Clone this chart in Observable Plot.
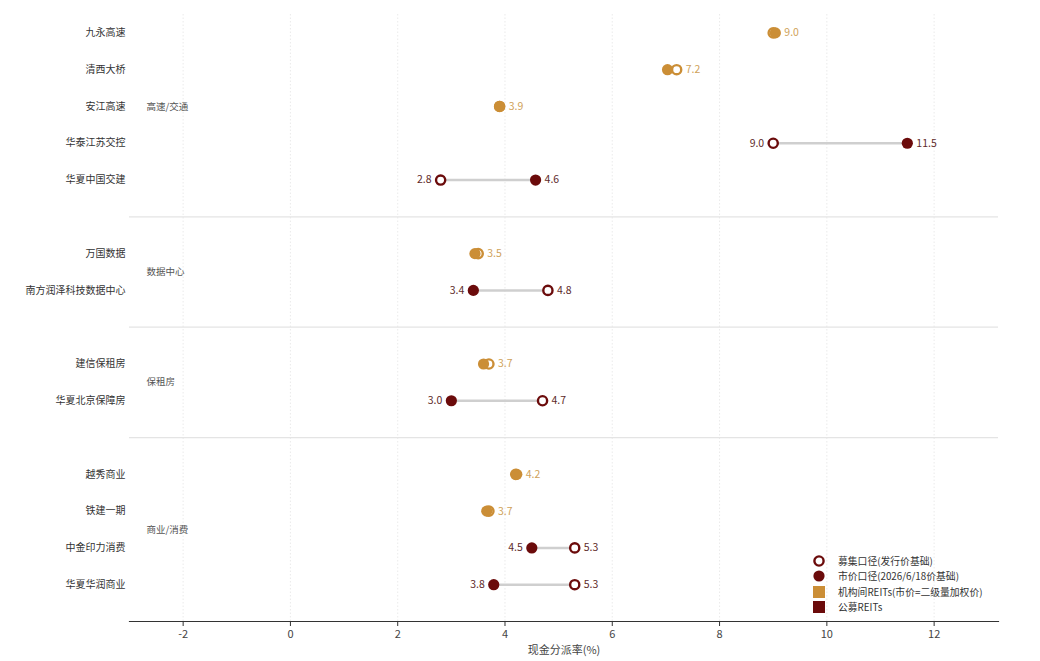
<!DOCTYPE html>
<html>
<head>
<meta charset="utf-8">
<script src="https://cdn.jsdelivr.net/npm/d3@7"></script>
<script src="https://cdn.jsdelivr.net/npm/@observablehq/plot@0.6"></script>
<style>
  html, body { margin: 0; padding: 0; background: #fff; }
  #wrap { position: relative; width: 1040px; height: 661px; font-family: "Noto Sans CJK SC", "Noto Sans", sans-serif; }
  #legend { position: absolute; left: 811px; top: 553px; font-size: 9.8px; color: #333; }
  #legend .item { display: flex; align-items: center; height: 15.5px; }
  #legend svg { width: 16px; height: 14px; margin-right: 11px; }
</style>
</head>
<body>
<div id="wrap">
  <div id="chart"></div>
  <div id="legend"></div>
</div>
<script>
// ---- data ----
const funds = ["九永高速", "清西大桥", "安江高速", "华泰江苏交控", "华夏中国交建",
  "万国数据", "南方润泽科技数据中心",
  "建信保租房", "华夏北京保障房",
  "越秀商业", "铁建一期", "中金印力消费", "华夏华润商业"];
const sectorOf = ["高速/交通", "高速/交通", "高速/交通", "高速/交通", "高速/交通",
  "数据中心", "数据中心",
  "保租房", "保租房",
  "商业/消费", "商业/消费", "商业/消费", "商业/消费"];
const issueYield = [9.0, 7.2, 3.9, 9.0, 2.8, 3.5, 4.8, 3.7, 4.7, 4.2, 3.7, 5.3, 5.3];   // 募集口径(发行价基础)
const marketYield = [9.04, 7.03, 3.9, 11.5, 4.57, 3.44, 3.41, 3.6, 3.0, 4.22, 3.66, 4.5, 3.79]; // 市价口径(2026/6/18价基础)
const fundType = ["机构间REITs(市价=二级量加权价)", "机构间REITs(市价=二级量加权价)", "机构间REITs(市价=二级量加权价)", "公募REITs", "公募REITs",
  "机构间REITs(市价=二级量加权价)", "公募REITs",
  "机构间REITs(市价=二级量加权价)", "公募REITs",
  "机构间REITs(市价=二级量加权价)", "机构间REITs(市价=二级量加权价)", "公募REITs", "公募REITs"];
const typeNames = ["机构间REITs(市价=二级量加权价)", "公募REITs"];
const typeColors = ["#CB8E36", "#6B0B0B"];
const labelColors = ["#CFA25A", "#5E2A2A"];
const xTicks = [-2, 0, 2, 4, 6, 8, 10, 12];
const xLabel = "现金分派率(%)";
const legendLabels = ["募集口径(发行价基础)", "市价口径(2026/6/18价基础)", "机构间REITs(市价=二级量加权价)", "公募REITs"];

// ---- build rows: one empty row between sectors ----
let pos = -1;
const rows = funds.map((f, i) => {
  if (i > 0 && sectorOf[i] !== sectorOf[i - 1]) pos += 1;
  pos += 1;
  return { fund: f, sector: sectorOf[i], type: fundType[i], issue: issueYield[i], market: marketYield[i], pos };
});
const lastPos = pos;
const separators = [];
rows.forEach((r, i) => { if (i > 0 && r.sector !== rows[i - 1].sector) separators.push({ pos: r.pos - 1 }); });
const sectorLabels = d3.groups(rows, d => d.sector).map(([s, rs]) => ({ sector: s, pos: d3.mean(rs, r => r.pos) }));
const fmt = d3.format(".1f");
const maxV = d => Math.max(d.issue, d.market);
const minV = d => Math.min(d.issue, d.market);
const inst = rows.filter(d => d.type === typeNames[0]);
const pub = rows.filter(d => d.type === typeNames[1]);

const chart = Plot.plot({
  width: 1040,
  height: 661,
  marginLeft: 129,
  marginRight: 42,
  marginTop: 14,
  marginBottom: 40,
  style: { fontFamily: '"Noto Sans CJK SC", "Noto Sans", sans-serif', fontSize: "10px", background: "#fff" },
  x: { domain: [-3, 13.2], ticks: xTicks, label: xLabel },
  y: { domain: [-0.5, lastPos + 1], axis: null, reverse: true },
  color: { domain: typeNames, range: typeColors },
  marks: [
    Plot.gridX(xTicks, { stroke: "#d8d8d8", strokeOpacity: 0.5, strokeDasharray: "1.5,2" }),
    Plot.ruleY(separators, { y: "pos", stroke: "#e4e4e4", strokeWidth: 1.3 }),
    Plot.frame({ anchor: "bottom", stroke: "#333", strokeWidth: 1.2 }),
    Plot.axisX({ ticks: xTicks, tickFormat: d => String(d), tickSize: 5, tickPadding: 4, fontSize: 11, color: "#444", stroke: "#333",
      label: xLabel, labelAnchor: "center", labelOffset: 32, labelArrow: "none" }),
    Plot.text(rows, { y: "pos", text: "fund", frameAnchor: "left", textAnchor: "end", dx: -4, fill: "#333", fontSize: 10 }),
    Plot.text(sectorLabels, { y: "pos", text: "sector", frameAnchor: "left", textAnchor: "start", dx: 17, fill: "#555", fontSize: 9.5 }),
    Plot.link(rows, { x1: "issue", x2: "market", y1: "pos", y2: "pos", stroke: "#cfcfcf", strokeWidth: 2.5 }),
    Plot.dot(rows, { x: "issue", y: "pos", r: 4.6, fill: "white", stroke: "type", strokeWidth: 2.4 }),
    Plot.dot(rows, { x: "market", y: "pos", r: 5.6, fill: "type" }),
    Plot.text(inst, { x: maxV, y: "pos", text: d => fmt(maxV(d)), textAnchor: "start", dx: 9, fill: labelColors[0], fontSize: 10.5 }),
    Plot.text(pub, { x: maxV, y: "pos", text: d => fmt(maxV(d)), textAnchor: "start", dx: 9, fill: labelColors[1], fontSize: 10.5 }),
    Plot.text(pub, { x: minV, y: "pos", text: d => fmt(minV(d)), textAnchor: "end", dx: -9, fill: labelColors[1], fontSize: 10.5 })
  ]
});
document.getElementById("chart").appendChild(chart);

// ---- legend (inside plot area, bottom right) ----
const symbols = [
  `<svg viewBox="0 0 16 14"><circle cx="8" cy="7" r="4.6" fill="white" stroke="${typeColors[1]}" stroke-width="2.4"/></svg>`,
  `<svg viewBox="0 0 16 14"><circle cx="8" cy="7" r="5.6" fill="${typeColors[1]}"/></svg>`,
  `<svg viewBox="0 0 16 14"><rect x="2" y="1" width="12" height="12" fill="${typeColors[0]}"/></svg>`,
  `<svg viewBox="0 0 16 14"><rect x="2" y="1" width="12" height="12" fill="${typeColors[1]}"/></svg>`
];
const legend = document.getElementById("legend");
legendLabels.forEach((t, i) => {
  const div = document.createElement("div");
  div.className = "item";
  div.innerHTML = symbols[i] + `<span>${t}</span>`;
  legend.appendChild(div);
});
</script>
</body>
</html>
